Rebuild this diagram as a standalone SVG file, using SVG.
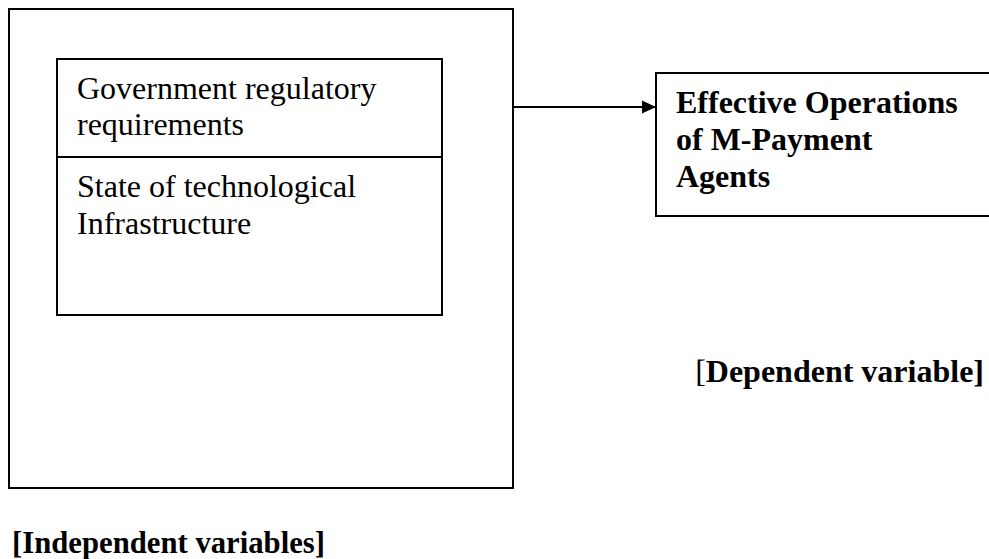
<svg xmlns="http://www.w3.org/2000/svg" width="989" height="559" viewBox="0 0 989 559">
  <style>
    .box { fill: #fff; stroke: #000; stroke-width: 2; }
    .ln { stroke: #000; stroke-width: 2; fill: none; }
    .t { font-family: "Liberation Serif", "Times New Roman", serif; font-size: 32px; fill: #000; }
    .b { font-weight: bold; }
    .r { font-weight: normal; }
  </style>
  <defs>
    <marker id="arrow" markerWidth="14" markerHeight="14" refX="14" refY="7" orient="auto" markerUnits="userSpaceOnUse">
      <path d="M0,0.5 L14,7 L0,13.5 Z" fill="#000"/>
    </marker>
  </defs>
  <rect width="989" height="559" fill="#fff"/>

  <g id="independent-group">
    <rect class="box" x="9" y="9" width="504" height="479"/>
  </g>

  <g id="independent-variables">
    <rect class="box" x="57" y="59" width="385" height="256"/>
    <line class="ln" x1="57" y1="157" x2="442" y2="157"/>
    <text class="t" x="77" y="99">Government regulatory</text>
    <text class="t" x="77" y="135">requirements</text>
    <text class="t" x="77" y="197">State of technological</text>
    <text class="t" x="77" y="234">Infrastructure</text>
  </g>

  <g id="connectors">
    <line class="ln" x1="513" y1="107" x2="656" y2="107" marker-end="url(#arrow)"/>
  </g>

  <g id="dependent-variable">
    <rect class="box" x="656" y="73" width="345" height="143"/>
    <text class="t b" x="676" y="113">Effective Operations</text>
    <text class="t b" x="676" y="150">of M-Payment</text>
    <text class="t b" x="676" y="187">Agents</text>
  </g>

  <g id="labels">
    <text class="t" x="984" y="382" text-anchor="end" font-size="30.5"><tspan class="r">[</tspan><tspan class="b">Dependent variable]</tspan></text>
    <text class="t b" x="12" y="553" font-size="31" textLength="313" lengthAdjust="spacingAndGlyphs">[Independent variables]</text>
  </g>
</svg>
